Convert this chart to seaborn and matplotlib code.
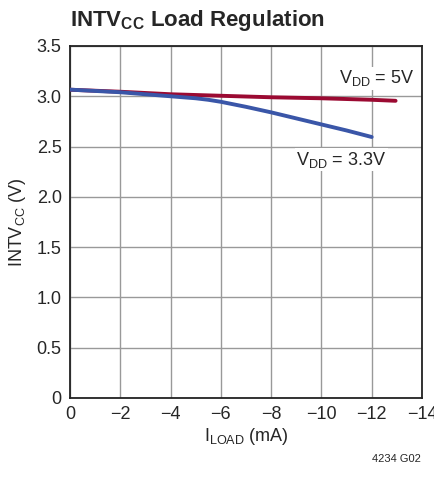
import numpy as np
import pandas as pd
import matplotlib
matplotlib.use('Agg')
import matplotlib.pyplot as plt
import seaborn as sns

# data
i_load_33 = [0, -1, -2, -3, -4, -5, -5.5, -6, -7, -8, -9, -10, -11, -12]
v_33 = [3.066, 3.053, 3.04, 3.02, 3.0, 2.98, 2.965, 2.945, 2.895, 2.84, 2.78, 2.72, 2.66, 2.595]
i_load_5 = [0, -2, -4, -6, -8, -10, -12, -12.95]
v_5 = [3.065, 3.045, 3.02, 3.005, 2.99, 2.98, 2.965, 2.955]

x_ticks = [0, -2, -4, -6, -8, -10, -12, -14]
y_ticks = [0, 0.5, 1.0, 1.5, 2.0, 2.5, 3.0, 3.5]

df33 = pd.DataFrame({'iload': i_load_33, 'v': v_33})
df5 = pd.DataFrame({'iload': i_load_5, 'v': v_5})

sns.set_style('white')
plt.rcParams['font.family'] = ['Liberation Sans Narrow', 'Liberation Sans', 'DejaVu Sans']
plt.rcParams['mathtext.fontset'] = 'custom'
plt.rcParams['mathtext.rm'] = 'Liberation Sans'
plt.rcParams['mathtext.bf'] = 'Liberation Sans:bold'

fig = plt.figure(figsize=(4.34, 4.83), dpi=100)
ax = fig.add_axes([0.1613, 0.176, 0.811, 0.7288])

sns.lineplot(data=df5, x='iload', y='v', ax=ax, color='#9b0a32', lw=2.8, zorder=3)
sns.lineplot(data=df33, x='iload', y='v', ax=ax, color='#3a56a8', lw=2.8, zorder=3)

ax.set_xlim(0, -14)
ax.set_ylim(0, 3.5)
ax.set_xticks(x_ticks)
ax.set_xticklabels(['0' if t == 0 else '\u2212%d' % abs(t) for t in x_ticks])
ax.set_yticks(y_ticks)
ax.set_yticklabels(['0' if t == 0 else '%.1f' % t for t in y_ticks])
ax.grid(True, color='#999999', lw=1)
ax.tick_params(labelsize=13, length=0, pad=6)
for s in ax.spines.values():
    s.set_color('#222222')
    s.set_linewidth(1.3)

ax.set_xlabel(r'I$_{\mathrm{LOAD}}$ (mA)', fontsize=13, labelpad=2)
ax.set_ylabel(r'INTV$_{\mathrm{CC}}$ (V)', fontsize=13, labelpad=6)

ax.text(-12.2, 3.18, r'V$_{\mathrm{DD}}$ = 5V', fontsize=13, ha='center', va='center',
        bbox=dict(facecolor='white', edgecolor='none', pad=1), zorder=4)
ax.text(-10.8, 2.37, r'V$_{\mathrm{DD}}$ = 3.3V', fontsize=13, ha='center', va='center',
        bbox=dict(facecolor='white', edgecolor='none', pad=1), zorder=4)

fig.text(0.1613, 0.958, r'INTV$_{\mathbf{CC}}$ Load Regulation', fontsize=16, fontweight='bold',
         ha='left', va='center')
fig.text(0.97, 0.05, '4234 G02', fontsize=8, ha='right', va='center')

fig.savefig('out.png', dpi=100)
